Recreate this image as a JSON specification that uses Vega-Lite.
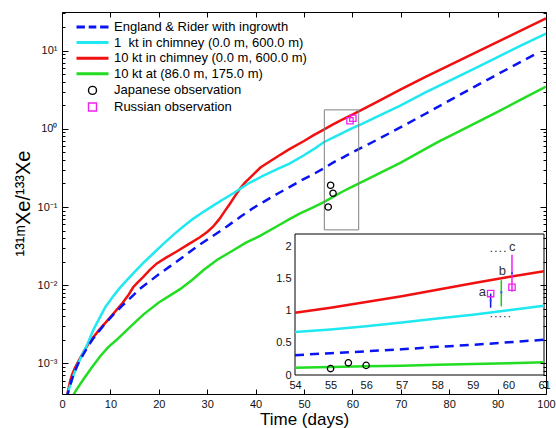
{
  "$schema": "https://vega.github.io/schema/vega-lite/v6.json",
  "width": 484,
  "height": 382,
  "autosize": "none",
  "padding": {"left": 62, "top": 12, "right": 10, "bottom": 34},
  "config": {
    "font": "Liberation Sans",
    "view": {"stroke": "#000", "strokeWidth": 1},
    "axis": {"grid": false, "domain": false, "labelFont": "Liberation Sans", "labelFontSize": 11, "labelColor": "#111", "tickColor": "#000", "tickWidth": 1, "titleFont": "Liberation Sans", "titleFontWeight": "normal", "titleColor": "#000", "labelFlush": false, "labelOverlap": false},
    "legend": {"labelFont": "Liberation Sans"}
  },
  "datasets": {
    "main_solid": [
      {"series": "10 kt in chimney (0.0 m, 600.0 m)", "t": 0.8, "v": 0.00033},
      {"series": "10 kt in chimney (0.0 m, 600.0 m)", "t": 1.3, "v": 0.00046},
      {"series": "10 kt in chimney (0.0 m, 600.0 m)", "t": 1.7, "v": 0.0006},
      {"series": "10 kt in chimney (0.0 m, 600.0 m)", "t": 2.1, "v": 0.00072},
      {"series": "10 kt in chimney (0.0 m, 600.0 m)", "t": 2.7, "v": 0.00088},
      {"series": "10 kt in chimney (0.0 m, 600.0 m)", "t": 4.0, "v": 0.00125},
      {"series": "10 kt in chimney (0.0 m, 600.0 m)", "t": 5.5, "v": 0.0018},
      {"series": "10 kt in chimney (0.0 m, 600.0 m)", "t": 7.5, "v": 0.0026},
      {"series": "10 kt in chimney (0.0 m, 600.0 m)", "t": 10, "v": 0.0039},
      {"series": "10 kt in chimney (0.0 m, 600.0 m)", "t": 12.5, "v": 0.0059},
      {"series": "10 kt in chimney (0.0 m, 600.0 m)", "t": 13.8, "v": 0.0076},
      {"series": "10 kt in chimney (0.0 m, 600.0 m)", "t": 14.7, "v": 0.0094},
      {"series": "10 kt in chimney (0.0 m, 600.0 m)", "t": 15.6, "v": 0.0108},
      {"series": "10 kt in chimney (0.0 m, 600.0 m)", "t": 16.8, "v": 0.0128},
      {"series": "10 kt in chimney (0.0 m, 600.0 m)", "t": 18.2, "v": 0.0158},
      {"series": "10 kt in chimney (0.0 m, 600.0 m)", "t": 19.6, "v": 0.019},
      {"series": "10 kt in chimney (0.0 m, 600.0 m)", "t": 21.5, "v": 0.0225},
      {"series": "10 kt in chimney (0.0 m, 600.0 m)", "t": 23.7, "v": 0.027},
      {"series": "10 kt in chimney (0.0 m, 600.0 m)", "t": 26, "v": 0.033},
      {"series": "10 kt in chimney (0.0 m, 600.0 m)", "t": 28.5, "v": 0.041},
      {"series": "10 kt in chimney (0.0 m, 600.0 m)", "t": 30, "v": 0.048},
      {"series": "10 kt in chimney (0.0 m, 600.0 m)", "t": 31.2, "v": 0.056},
      {"series": "10 kt in chimney (0.0 m, 600.0 m)", "t": 32.5, "v": 0.07},
      {"series": "10 kt in chimney (0.0 m, 600.0 m)", "t": 33.6, "v": 0.088},
      {"series": "10 kt in chimney (0.0 m, 600.0 m)", "t": 34.7, "v": 0.11},
      {"series": "10 kt in chimney (0.0 m, 600.0 m)", "t": 35.8, "v": 0.14},
      {"series": "10 kt in chimney (0.0 m, 600.0 m)", "t": 36.8, "v": 0.172},
      {"series": "10 kt in chimney (0.0 m, 600.0 m)", "t": 37.8, "v": 0.205},
      {"series": "10 kt in chimney (0.0 m, 600.0 m)", "t": 38.5, "v": 0.226},
      {"series": "10 kt in chimney (0.0 m, 600.0 m)", "t": 39.5, "v": 0.26},
      {"series": "10 kt in chimney (0.0 m, 600.0 m)", "t": 41, "v": 0.32},
      {"series": "10 kt in chimney (0.0 m, 600.0 m)", "t": 43, "v": 0.385},
      {"series": "10 kt in chimney (0.0 m, 600.0 m)", "t": 44.7, "v": 0.45},
      {"series": "10 kt in chimney (0.0 m, 600.0 m)", "t": 47, "v": 0.55},
      {"series": "10 kt in chimney (0.0 m, 600.0 m)", "t": 50, "v": 0.7},
      {"series": "10 kt in chimney (0.0 m, 600.0 m)", "t": 52, "v": 0.83},
      {"series": "10 kt in chimney (0.0 m, 600.0 m)", "t": 54, "v": 0.97},
      {"series": "10 kt in chimney (0.0 m, 600.0 m)", "t": 56, "v": 1.14},
      {"series": "10 kt in chimney (0.0 m, 600.0 m)", "t": 58, "v": 1.32},
      {"series": "10 kt in chimney (0.0 m, 600.0 m)", "t": 60, "v": 1.52},
      {"series": "10 kt in chimney (0.0 m, 600.0 m)", "t": 62, "v": 1.76},
      {"series": "10 kt in chimney (0.0 m, 600.0 m)", "t": 65, "v": 2.2},
      {"series": "10 kt in chimney (0.0 m, 600.0 m)", "t": 70, "v": 3.2},
      {"series": "10 kt in chimney (0.0 m, 600.0 m)", "t": 75, "v": 4.6},
      {"series": "10 kt in chimney (0.0 m, 600.0 m)", "t": 80, "v": 6.5},
      {"series": "10 kt in chimney (0.0 m, 600.0 m)", "t": 85, "v": 9.2},
      {"series": "10 kt in chimney (0.0 m, 600.0 m)", "t": 90, "v": 13},
      {"series": "10 kt in chimney (0.0 m, 600.0 m)", "t": 95, "v": 18.3},
      {"series": "10 kt in chimney (0.0 m, 600.0 m)", "t": 100, "v": 26},

      {"series": "1\u00a0 kt in chimney (0.0 m, 600.0 m)", "t": 0.8, "v": 0.00033},
      {"series": "1\u00a0 kt in chimney (0.0 m, 600.0 m)", "t": 1.5, "v": 0.00048},
      {"series": "1\u00a0 kt in chimney (0.0 m, 600.0 m)", "t": 2.3, "v": 0.00068},
      {"series": "1\u00a0 kt in chimney (0.0 m, 600.0 m)", "t": 3.2, "v": 0.00095},
      {"series": "1\u00a0 kt in chimney (0.0 m, 600.0 m)", "t": 4.2, "v": 0.0013},
      {"series": "1\u00a0 kt in chimney (0.0 m, 600.0 m)", "t": 5.4, "v": 0.00185},
      {"series": "1\u00a0 kt in chimney (0.0 m, 600.0 m)", "t": 6.5, "v": 0.0027},
      {"series": "1\u00a0 kt in chimney (0.0 m, 600.0 m)", "t": 7.85, "v": 0.0039},
      {"series": "1\u00a0 kt in chimney (0.0 m, 600.0 m)", "t": 9, "v": 0.0053},
      {"series": "1\u00a0 kt in chimney (0.0 m, 600.0 m)", "t": 10.5, "v": 0.0071},
      {"series": "1\u00a0 kt in chimney (0.0 m, 600.0 m)", "t": 12, "v": 0.0093},
      {"series": "1\u00a0 kt in chimney (0.0 m, 600.0 m)", "t": 13.5, "v": 0.0118},
      {"series": "1\u00a0 kt in chimney (0.0 m, 600.0 m)", "t": 15, "v": 0.0148},
      {"series": "1\u00a0 kt in chimney (0.0 m, 600.0 m)", "t": 17, "v": 0.0198},
      {"series": "1\u00a0 kt in chimney (0.0 m, 600.0 m)", "t": 19, "v": 0.026},
      {"series": "1\u00a0 kt in chimney (0.0 m, 600.0 m)", "t": 21, "v": 0.034},
      {"series": "1\u00a0 kt in chimney (0.0 m, 600.0 m)", "t": 23, "v": 0.044},
      {"series": "1\u00a0 kt in chimney (0.0 m, 600.0 m)", "t": 25, "v": 0.056},
      {"series": "1\u00a0 kt in chimney (0.0 m, 600.0 m)", "t": 27, "v": 0.07},
      {"series": "1\u00a0 kt in chimney (0.0 m, 600.0 m)", "t": 29, "v": 0.085},
      {"series": "1\u00a0 kt in chimney (0.0 m, 600.0 m)", "t": 31, "v": 0.102},
      {"series": "1\u00a0 kt in chimney (0.0 m, 600.0 m)", "t": 33, "v": 0.122},
      {"series": "1\u00a0 kt in chimney (0.0 m, 600.0 m)", "t": 35.4, "v": 0.15},
      {"series": "1\u00a0 kt in chimney (0.0 m, 600.0 m)", "t": 38.5, "v": 0.2},
      {"series": "1\u00a0 kt in chimney (0.0 m, 600.0 m)", "t": 41.5, "v": 0.25},
      {"series": "1\u00a0 kt in chimney (0.0 m, 600.0 m)", "t": 44.7, "v": 0.31},
      {"series": "1\u00a0 kt in chimney (0.0 m, 600.0 m)", "t": 47, "v": 0.36},
      {"series": "1\u00a0 kt in chimney (0.0 m, 600.0 m)", "t": 50, "v": 0.46},
      {"series": "1\u00a0 kt in chimney (0.0 m, 600.0 m)", "t": 52, "v": 0.55},
      {"series": "1\u00a0 kt in chimney (0.0 m, 600.0 m)", "t": 54, "v": 0.67},
      {"series": "1\u00a0 kt in chimney (0.0 m, 600.0 m)", "t": 56, "v": 0.77},
      {"series": "1\u00a0 kt in chimney (0.0 m, 600.0 m)", "t": 58, "v": 0.89},
      {"series": "1\u00a0 kt in chimney (0.0 m, 600.0 m)", "t": 60, "v": 1.02},
      {"series": "1\u00a0 kt in chimney (0.0 m, 600.0 m)", "t": 62, "v": 1.16},
      {"series": "1\u00a0 kt in chimney (0.0 m, 600.0 m)", "t": 65, "v": 1.42},
      {"series": "1\u00a0 kt in chimney (0.0 m, 600.0 m)", "t": 70, "v": 2.0},
      {"series": "1\u00a0 kt in chimney (0.0 m, 600.0 m)", "t": 75, "v": 2.9},
      {"series": "1\u00a0 kt in chimney (0.0 m, 600.0 m)", "t": 80, "v": 4.1},
      {"series": "1\u00a0 kt in chimney (0.0 m, 600.0 m)", "t": 85, "v": 5.8},
      {"series": "1\u00a0 kt in chimney (0.0 m, 600.0 m)", "t": 90, "v": 8.3},
      {"series": "1\u00a0 kt in chimney (0.0 m, 600.0 m)", "t": 95, "v": 11.8},
      {"series": "1\u00a0 kt in chimney (0.0 m, 600.0 m)", "t": 100, "v": 16.6},

      {"series": "10 kt at (86.0 m, 175.0 m)", "t": 2.1, "v": 0.00037},
      {"series": "10 kt at (86.0 m, 175.0 m)", "t": 3.0, "v": 0.00046},
      {"series": "10 kt at (86.0 m, 175.0 m)", "t": 4.4, "v": 0.00062},
      {"series": "10 kt at (86.0 m, 175.0 m)", "t": 6, "v": 0.00086},
      {"series": "10 kt at (86.0 m, 175.0 m)", "t": 7.9, "v": 0.00123},
      {"series": "10 kt at (86.0 m, 175.0 m)", "t": 9.5, "v": 0.0016},
      {"series": "10 kt at (86.0 m, 175.0 m)", "t": 11.3, "v": 0.002},
      {"series": "10 kt at (86.0 m, 175.0 m)", "t": 13.5, "v": 0.0027},
      {"series": "10 kt at (86.0 m, 175.0 m)", "t": 16.8, "v": 0.0042},
      {"series": "10 kt at (86.0 m, 175.0 m)", "t": 20, "v": 0.006},
      {"series": "10 kt at (86.0 m, 175.0 m)", "t": 24.4, "v": 0.0089},
      {"series": "10 kt at (86.0 m, 175.0 m)", "t": 27, "v": 0.0118},
      {"series": "10 kt at (86.0 m, 175.0 m)", "t": 29.2, "v": 0.0155},
      {"series": "10 kt at (86.0 m, 175.0 m)", "t": 32, "v": 0.021},
      {"series": "10 kt at (86.0 m, 175.0 m)", "t": 35.4, "v": 0.028},
      {"series": "10 kt at (86.0 m, 175.0 m)", "t": 38, "v": 0.035},
      {"series": "10 kt at (86.0 m, 175.0 m)", "t": 41, "v": 0.043},
      {"series": "10 kt at (86.0 m, 175.0 m)", "t": 44.7, "v": 0.058},
      {"series": "10 kt at (86.0 m, 175.0 m)", "t": 47, "v": 0.07},
      {"series": "10 kt at (86.0 m, 175.0 m)", "t": 49.2, "v": 0.083},
      {"series": "10 kt at (86.0 m, 175.0 m)", "t": 52, "v": 0.1},
      {"series": "10 kt at (86.0 m, 175.0 m)", "t": 54, "v": 0.115},
      {"series": "10 kt at (86.0 m, 175.0 m)", "t": 56, "v": 0.135},
      {"series": "10 kt at (86.0 m, 175.0 m)", "t": 58, "v": 0.158},
      {"series": "10 kt at (86.0 m, 175.0 m)", "t": 60, "v": 0.182},
      {"series": "10 kt at (86.0 m, 175.0 m)", "t": 62, "v": 0.21},
      {"series": "10 kt at (86.0 m, 175.0 m)", "t": 65, "v": 0.26},
      {"series": "10 kt at (86.0 m, 175.0 m)", "t": 70, "v": 0.37},
      {"series": "10 kt at (86.0 m, 175.0 m)", "t": 75, "v": 0.55},
      {"series": "10 kt at (86.0 m, 175.0 m)", "t": 78.1, "v": 0.7},
      {"series": "10 kt at (86.0 m, 175.0 m)", "t": 80, "v": 0.8},
      {"series": "10 kt at (86.0 m, 175.0 m)", "t": 85, "v": 1.15},
      {"series": "10 kt at (86.0 m, 175.0 m)", "t": 90, "v": 1.65},
      {"series": "10 kt at (86.0 m, 175.0 m)", "t": 95, "v": 2.4},
      {"series": "10 kt at (86.0 m, 175.0 m)", "t": 100, "v": 3.47}
    ],
    "main_dashed": [
      {"series": "England & Rider with ingrowth", "t": 0.9, "v": 0.00035},
      {"series": "England & Rider with ingrowth", "t": 1.5, "v": 0.00048},
      {"series": "England & Rider with ingrowth", "t": 2.3, "v": 0.0007},
      {"series": "England & Rider with ingrowth", "t": 3.3, "v": 0.00098},
      {"series": "England & Rider with ingrowth", "t": 4.4, "v": 0.0013},
      {"series": "England & Rider with ingrowth", "t": 5.5, "v": 0.0017},
      {"series": "England & Rider with ingrowth", "t": 6.5, "v": 0.0021},
      {"series": "England & Rider with ingrowth", "t": 8.5, "v": 0.003},
      {"series": "England & Rider with ingrowth", "t": 10.6, "v": 0.0042},
      {"series": "England & Rider with ingrowth", "t": 12.5, "v": 0.0055},
      {"series": "England & Rider with ingrowth", "t": 14.7, "v": 0.0074},
      {"series": "England & Rider with ingrowth", "t": 16.1, "v": 0.009},
      {"series": "England & Rider with ingrowth", "t": 18.2, "v": 0.0113},
      {"series": "England & Rider with ingrowth", "t": 20, "v": 0.0138},
      {"series": "England & Rider with ingrowth", "t": 22.3, "v": 0.0174},
      {"series": "England & Rider with ingrowth", "t": 25, "v": 0.023},
      {"series": "England & Rider with ingrowth", "t": 27.8, "v": 0.031},
      {"series": "England & Rider with ingrowth", "t": 31, "v": 0.042},
      {"series": "England & Rider with ingrowth", "t": 34, "v": 0.056},
      {"series": "England & Rider with ingrowth", "t": 37, "v": 0.076},
      {"series": "England & Rider with ingrowth", "t": 39.5, "v": 0.097},
      {"series": "England & Rider with ingrowth", "t": 42, "v": 0.12},
      {"series": "England & Rider with ingrowth", "t": 44.7, "v": 0.15},
      {"series": "England & Rider with ingrowth", "t": 47, "v": 0.18},
      {"series": "England & Rider with ingrowth", "t": 49.5, "v": 0.22},
      {"series": "England & Rider with ingrowth", "t": 52, "v": 0.265},
      {"series": "England & Rider with ingrowth", "t": 54, "v": 0.31},
      {"series": "England & Rider with ingrowth", "t": 56, "v": 0.37},
      {"series": "England & Rider with ingrowth", "t": 58, "v": 0.43},
      {"series": "England & Rider with ingrowth", "t": 60, "v": 0.5},
      {"series": "England & Rider with ingrowth", "t": 62, "v": 0.58},
      {"series": "England & Rider with ingrowth", "t": 65, "v": 0.72},
      {"series": "England & Rider with ingrowth", "t": 70, "v": 1.05},
      {"series": "England & Rider with ingrowth", "t": 75, "v": 1.55},
      {"series": "England & Rider with ingrowth", "t": 80, "v": 2.3},
      {"series": "England & Rider with ingrowth", "t": 85, "v": 3.4},
      {"series": "England & Rider with ingrowth", "t": 90, "v": 5.0},
      {"series": "England & Rider with ingrowth", "t": 95, "v": 7.3},
      {"series": "England & Rider with ingrowth", "t": 98, "v": 9.2}
    ],
    "observations": [
      {"series": "Japanese observation", "t": 55, "v": 0.1},
      {"series": "Japanese observation", "t": 55.5, "v": 0.19},
      {"series": "Japanese observation", "t": 56, "v": 0.15},
      {"series": "Russian observation", "t": 59.5, "v": 1.27},
      {"series": "Russian observation", "t": 60.1, "v": 1.37}
    ],
    "zoom_box": [
      {"t1": 54.2, "t2": 61.3, "v1": 0.051, "v2": 1.75}
    ],
    "inset_frame": [
      {"t1": 54, "t2": 61, "v1": 0, "v2": 2.2}
    ],
    "inset_solid": [
      {"series": "10 kt in chimney (0.0 m, 600.0 m)", "t": 54, "v": 0.97},
      {"series": "10 kt in chimney (0.0 m, 600.0 m)", "t": 55, "v": 1.05},
      {"series": "10 kt in chimney (0.0 m, 600.0 m)", "t": 56, "v": 1.14},
      {"series": "10 kt in chimney (0.0 m, 600.0 m)", "t": 57, "v": 1.23},
      {"series": "10 kt in chimney (0.0 m, 600.0 m)", "t": 58, "v": 1.33},
      {"series": "10 kt in chimney (0.0 m, 600.0 m)", "t": 59, "v": 1.43},
      {"series": "10 kt in chimney (0.0 m, 600.0 m)", "t": 60, "v": 1.53},
      {"series": "10 kt in chimney (0.0 m, 600.0 m)", "t": 61, "v": 1.62},
      {"series": "1\u00a0 kt in chimney (0.0 m, 600.0 m)", "t": 54, "v": 0.67},
      {"series": "1\u00a0 kt in chimney (0.0 m, 600.0 m)", "t": 55, "v": 0.71},
      {"series": "1\u00a0 kt in chimney (0.0 m, 600.0 m)", "t": 56, "v": 0.76},
      {"series": "1\u00a0 kt in chimney (0.0 m, 600.0 m)", "t": 57, "v": 0.82},
      {"series": "1\u00a0 kt in chimney (0.0 m, 600.0 m)", "t": 58, "v": 0.88},
      {"series": "1\u00a0 kt in chimney (0.0 m, 600.0 m)", "t": 59, "v": 0.94},
      {"series": "1\u00a0 kt in chimney (0.0 m, 600.0 m)", "t": 60, "v": 1.01},
      {"series": "1\u00a0 kt in chimney (0.0 m, 600.0 m)", "t": 61, "v": 1.08},
      {"series": "10 kt at (86.0 m, 175.0 m)", "t": 54, "v": 0.115},
      {"series": "10 kt at (86.0 m, 175.0 m)", "t": 55, "v": 0.125},
      {"series": "10 kt at (86.0 m, 175.0 m)", "t": 56, "v": 0.135},
      {"series": "10 kt at (86.0 m, 175.0 m)", "t": 57, "v": 0.145},
      {"series": "10 kt at (86.0 m, 175.0 m)", "t": 58, "v": 0.16},
      {"series": "10 kt at (86.0 m, 175.0 m)", "t": 59, "v": 0.17},
      {"series": "10 kt at (86.0 m, 175.0 m)", "t": 60, "v": 0.185},
      {"series": "10 kt at (86.0 m, 175.0 m)", "t": 61, "v": 0.2}
    ],
    "inset_dashed": [
      {"series": "England & Rider with ingrowth", "t": 54, "v": 0.31},
      {"series": "England & Rider with ingrowth", "t": 55, "v": 0.34},
      {"series": "England & Rider with ingrowth", "t": 56, "v": 0.37},
      {"series": "England & Rider with ingrowth", "t": 57, "v": 0.4},
      {"series": "England & Rider with ingrowth", "t": 58, "v": 0.44},
      {"series": "England & Rider with ingrowth", "t": 59, "v": 0.47},
      {"series": "England & Rider with ingrowth", "t": 60, "v": 0.51},
      {"series": "England & Rider with ingrowth", "t": 61, "v": 0.55}
    ],
    "range_lines": [
      {"t1": 59.5, "t2": 59.97, "v": 1.93},
      {"t1": 59.5, "t2": 60.1, "v": 0.91}
    ],
    "error_bars": [
      {"tag": "a", "t": 59.5, "lo": 1.05, "hi": 1.27, "mid": 1.16},
      {"tag": "b", "t": 59.8, "lo": 1.07, "hi": 1.48, "mid": 1.29},
      {"tag": "c", "t": 60.1, "lo": 1.3, "hi": 1.875, "mid": 1.59}
    ],
    "bar_tags": [
      {"tag": "a", "t": 59.27, "v": 1.29},
      {"tag": "b", "t": 59.83, "v": 1.63},
      {"tag": "c", "t": 60.11, "v": 2.0}
    ]
  },
  "layer": [
    {
      "layer": [
        {
          "data": {"name": "main_solid"},
          "mark": {"type": "line", "strokeWidth": 2.5, "clip": true},
          "encoding": {
            "x": {"field": "t", "type": "quantitative",
              "scale": {"domain": [0, 100], "nice": false, "zero": false},
              "axis": {"orient": "bottom", "values": [0, 10, 20, 30, 40, 50, 60, 70, 80, 90, 100], "tickSize": -5, "labelPadding": 9, "title": "Time (days)", "titleFontSize": 17, "titlePadding": 2, "zindex": 1}},
            "y": {"field": "v", "type": "quantitative",
              "scale": {"type": "log", "domain": [0.000405, 31.3], "nice": false},
              "axis": {"orient": "left", "values": [0.001, 0.01, 0.1, 1, 10],
                "labelExpr": "['10⁻³','10⁻²','10⁻¹','10⁰','10¹'][round(log(datum.value)/LN10) + 3]",
                "tickSize": -6, "labelPadding": 11,
                "title": "¹³¹ᵐXe/¹³³Xe", "titleFontSize": 20, "titlePadding": 4, "zindex": 1}},
            "color": {"field": "series", "type": "nominal",
              "scale": {"domain": ["England & Rider with ingrowth", "1\u00a0 kt in chimney (0.0 m, 600.0 m)", "10 kt in chimney (0.0 m, 600.0 m)", "10 kt at (86.0 m, 175.0 m)", "Japanese observation", "Russian observation"],
                "range": ["#0a14f0", "#1ee8f0", "#f01010", "#22dd22", "#000000", "#f020f0"]},
              "legend": {"orient": "none", "legendX": 24, "legendY": 8.5, "title": null, "padding": 0, "symbolSize": 64, "labelFontSize": 13, "labelOffset": 15, "rowPadding": 1.6, "labelLimit": 400, "labelColor": "#000", "symbolStrokeWidth": 1.4}}
          }
        },
        {
          "data": {"name": "main_dashed"},
          "mark": {"type": "line", "strokeWidth": 2.5, "strokeDash": [9, 6], "clip": true},
          "encoding": {
            "x": {"field": "t", "type": "quantitative",
              "scale": {"domain": [0, 100], "nice": false, "zero": false},
              "axis": {"orient": "top", "values": [0, 10, 20, 30, 40, 50, 60, 70, 80, 90, 100], "tickSize": -5, "labels": false, "title": null, "zindex": 1}},
            "y": {"field": "v", "type": "quantitative",
              "scale": {"type": "log", "domain": [0.000405, 31.3], "nice": false},
              "axis": {"orient": "right", "values": [0.001, 0.01, 0.1, 1, 10], "tickSize": -6, "labels": false, "title": null, "zindex": 1}},
            "color": {"field": "series", "type": "nominal", "legend": null}
          }
        },
        {
          "data": {"name": "zoom_box"},
          "mark": {"type": "rect", "fillOpacity": 0, "stroke": "#808080", "strokeWidth": 1},
          "encoding": {
            "x": {"field": "t1", "type": "quantitative", "scale": {"domain": [0, 100], "nice": false, "zero": false}, "axis": null},
            "x2": {"field": "t2"},
            "y": {"field": "v1", "type": "quantitative", "scale": {"type": "log", "domain": [0.000405, 31.3], "nice": false},
              "axis": {"orient": "left", "values": [0.0005, 0.0006, 0.0007, 0.0008, 0.0009, 0.002, 0.003, 0.004, 0.005, 0.006, 0.007, 0.008, 0.009, 0.02, 0.03, 0.04, 0.05, 0.06, 0.07, 0.08, 0.09, 0.2, 0.3, 0.4, 0.5, 0.6, 0.7, 0.8, 0.9, 2, 3, 4, 5, 6, 7, 8, 9, 20, 30], "tickSize": -3, "labels": false, "title": null, "zindex": 1}},
            "y2": {"field": "v2"}
          }
        },
        {
          "data": {"name": "observations"},
          "mark": {"type": "point", "filled": false, "size": 40, "strokeWidth": 1.3, "opacity": 1},
          "encoding": {
            "x": {"field": "t", "type": "quantitative", "scale": {"domain": [0, 100], "nice": false, "zero": false}, "axis": null},
            "y": {"field": "v", "type": "quantitative", "scale": {"type": "log", "domain": [0.000405, 31.3], "nice": false},
              "axis": {"orient": "right", "values": [0.0005, 0.0006, 0.0007, 0.0008, 0.0009, 0.002, 0.003, 0.004, 0.005, 0.006, 0.007, 0.008, 0.009, 0.02, 0.03, 0.04, 0.05, 0.06, 0.07, 0.08, 0.09, 0.2, 0.3, 0.4, 0.5, 0.6, 0.7, 0.8, 0.9, 2, 3, 4, 5, 6, 7, 8, 9, 20, 30], "tickSize": -3, "labels": false, "title": null, "zindex": 1}},
            "color": {"field": "series", "type": "nominal"},
            "shape": {"field": "series", "type": "nominal",
              "scale": {"domain": ["England & Rider with ingrowth", "1\u00a0 kt in chimney (0.0 m, 600.0 m)", "10 kt in chimney (0.0 m, 600.0 m)", "10 kt at (86.0 m, 175.0 m)", "Japanese observation", "Russian observation"],
                "range": [
                  "M-4,-0.2H-1.9M-0.95,-0.2H0.95M1.9,-0.2H4M-4,0H-1.9M-0.95,0H0.95M1.9,0H4M-4,0.2H-1.9M-0.95,0.2H0.95M1.9,0.2H4",
                  "M-4,-0.2H4M-4,0H4M-4,0.2H4",
                  "M-4,-0.2H4M-4,0H4M-4,0.2H4",
                  "M-4,-0.2H4M-4,0H4M-4,0.2H4",
                  "circle", "square"]}}
          }
        }
      ],
      "resolve": {"axis": {"x": "independent", "y": "independent"}}
    },
    {
      "layer": [
        {
          "data": {"name": "inset_frame"},
          "mark": {"type": "rect", "fill": "#ffffff", "stroke": "#000000", "strokeWidth": 1},
          "encoding": {
            "x": {"field": "t1", "type": "quantitative",
              "scale": {"domain": [54, 61], "range": [233, 482], "nice": false, "zero": false},
              "axis": {"orient": "bottom", "offset": -19, "values": [54, 55, 56, 57, 58, 59, 60, 61], "format": "d", "ticks": false, "labelPadding": 4, "title": null}},
            "x2": {"field": "t2"},
            "y": {"field": "v1", "type": "quantitative",
              "scale": {"domain": [0, 2.2], "range": [363, 222], "nice": false, "zero": false},
              "axis": {"orient": "left", "offset": -233, "values": [0, 0.5, 1, 1.5, 2], "format": "~g", "ticks": false, "labelPadding": 4, "title": null}},
            "y2": {"field": "v2"}
          }
        },
        {
          "data": {"name": "inset_solid"},
          "mark": {"type": "line", "strokeWidth": 2.5},
          "encoding": {
            "x": {"field": "t", "type": "quantitative"},
            "y": {"field": "v", "type": "quantitative"},
            "color": {"field": "series", "type": "nominal", "legend": null}
          }
        },
        {
          "data": {"name": "inset_dashed"},
          "mark": {"type": "line", "strokeWidth": 2.5, "strokeDash": [9, 6]},
          "encoding": {
            "x": {"field": "t", "type": "quantitative"},
            "y": {"field": "v", "type": "quantitative"},
            "color": {"field": "series", "type": "nominal", "legend": null}
          }
        },
        {
          "data": {"name": "range_lines"},
          "mark": {"type": "rule", "stroke": "#555555", "strokeWidth": 1.2, "strokeDash": [1.5, 3]},
          "encoding": {
            "x": {"field": "t1", "type": "quantitative"},
            "x2": {"field": "t2"},
            "y": {"field": "v", "type": "quantitative"}
          }
        },
        {
          "data": {"name": "error_bars"},
          "mark": {"type": "rule", "strokeWidth": 1.5},
          "encoding": {
            "x": {"field": "t", "type": "quantitative"},
            "y": {"field": "lo", "type": "quantitative"},
            "y2": {"field": "hi"},
            "stroke": {"field": "tag", "type": "nominal", "scale": {"domain": ["a", "b", "c"], "range": ["#1010f0", "#10d010", "#f020f0"]}, "legend": null}
          }
        },
        {
          "data": {"name": "error_bars"},
          "mark": {"type": "square", "size": 4, "color": "#3050ff", "opacity": 1},
          "encoding": {
            "x": {"field": "t", "type": "quantitative"},
            "y": {"field": "mid", "type": "quantitative"}
          }
        },
        {
          "data": {"name": "bar_tags"},
          "mark": {"type": "text", "fontSize": 13, "color": "#333333", "align": "center", "baseline": "middle"},
          "encoding": {
            "x": {"field": "t", "type": "quantitative"},
            "y": {"field": "v", "type": "quantitative"},
            "text": {"field": "tag"}
          }
        },
        {
          "data": {"name": "observations"},
          "mark": {"type": "point", "filled": false, "size": 40, "strokeWidth": 1.3, "opacity": 1},
          "encoding": {
            "x": {"field": "t", "type": "quantitative"},
            "y": {"field": "v", "type": "quantitative"},
            "color": {"field": "series", "type": "nominal", "legend": null},
            "shape": {"field": "series", "type": "nominal", "legend": null}
          }
        }
      ]
    }
  ],
  "resolve": {
    "scale": {"x": "independent", "y": "independent"},
    "axis": {"x": "independent", "y": "independent"}
  }
}
